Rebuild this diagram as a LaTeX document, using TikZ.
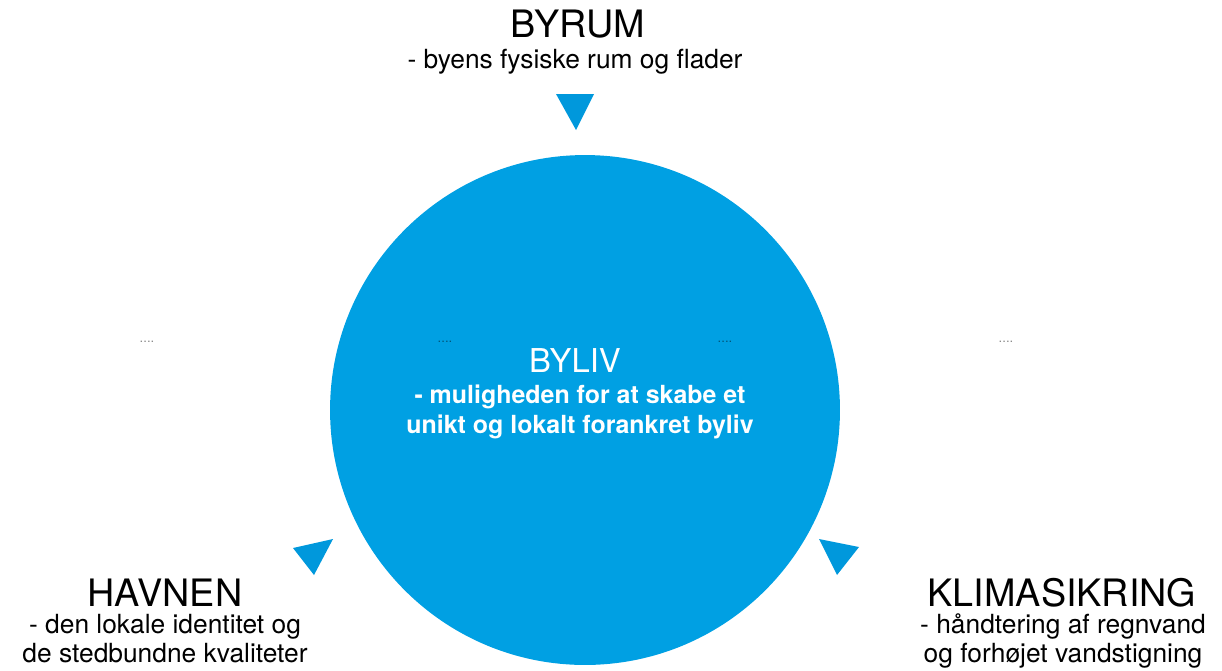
\documentclass[tikz,border=0pt]{standalone}
\usepackage{fontspec}
\setmainfont{TeX Gyre Heros}
\definecolor{bylivblue}{RGB}{0,160,227}
\definecolor{markblue}{RGB}{0,152,220}

\begin{document}
\begin{tikzpicture}[x=0.02cm,y=-0.02cm,
    heading/.style={font=\fontsize{21.5}{26}\selectfont,anchor=base,inner sep=0pt},
    subline/.style={font=\fontsize{15}{16.5}\selectfont,align=center,anchor=base,inner sep=0pt},
    dotmark/.style={font=\fontsize{7.5}{8}\selectfont,text=black,opacity=0.45,inner sep=0pt}]
  \pgfmathsetmacro\cx{585}
  \pgfmathsetmacro\cy{410}
  \useasboundingbox (0,0) rectangle (1222,670);

% centre circle with the main theme (base of a two-line node = its last line)
  \node[circle,fill=bylivblue,minimum size=10.2cm,inner sep=0pt] (byliv) at (\cx,\cy) {};
  \node[heading,text=white,font=\fontsize{18.7}{22}\selectfont] (bylivhead) at (575,372) {BYLIV};
  \node[subline,text=white,font=\bfseries\fontsize{14.2}{17}\selectfont] (bylivsub) at (580,433)
        {- muligheden for at skabe et\\unikt og lokalt forankret byliv};

% the three surrounding themes
  \node[heading] (byrum) at (578,37) {BYRUM};
  \node[subline] (byrumsub) at (575,68) {- byens fysiske rum og flader};
  \node[heading] (havnen) at (165,606) {HAVNEN};
  \node[subline] (havnensub) at (165,662) {- den lokale identitet og\\de stedbundne kvaliteter};
  \node[heading] (klima) at (1062,606) {KLIMASIKRING};
  \node[subline] (klimasub) at (1063,662) {- håndtering af regnvand\\og forhøjet vandstigning};

% triangles pointing at the circle
  \fill[markblue] (556,94) -- (594,94) -- (576,130) -- cycle;
  \fill[markblue] (293,548) -- (333,539) -- (314,575) -- cycle;
  \fill[markblue] (819,539) -- (859,547) -- (837,575) -- cycle;

% faint dot marks
  \node[dotmark] (dotsa) at (147,342) {....};
  \node[dotmark] (dotsb) at (445,342) {....};
  \node[dotmark] (dotsc) at (725,342) {....};
  \node[dotmark] (dotsd) at (1006,342) {....};
\end{tikzpicture}
\end{document}
